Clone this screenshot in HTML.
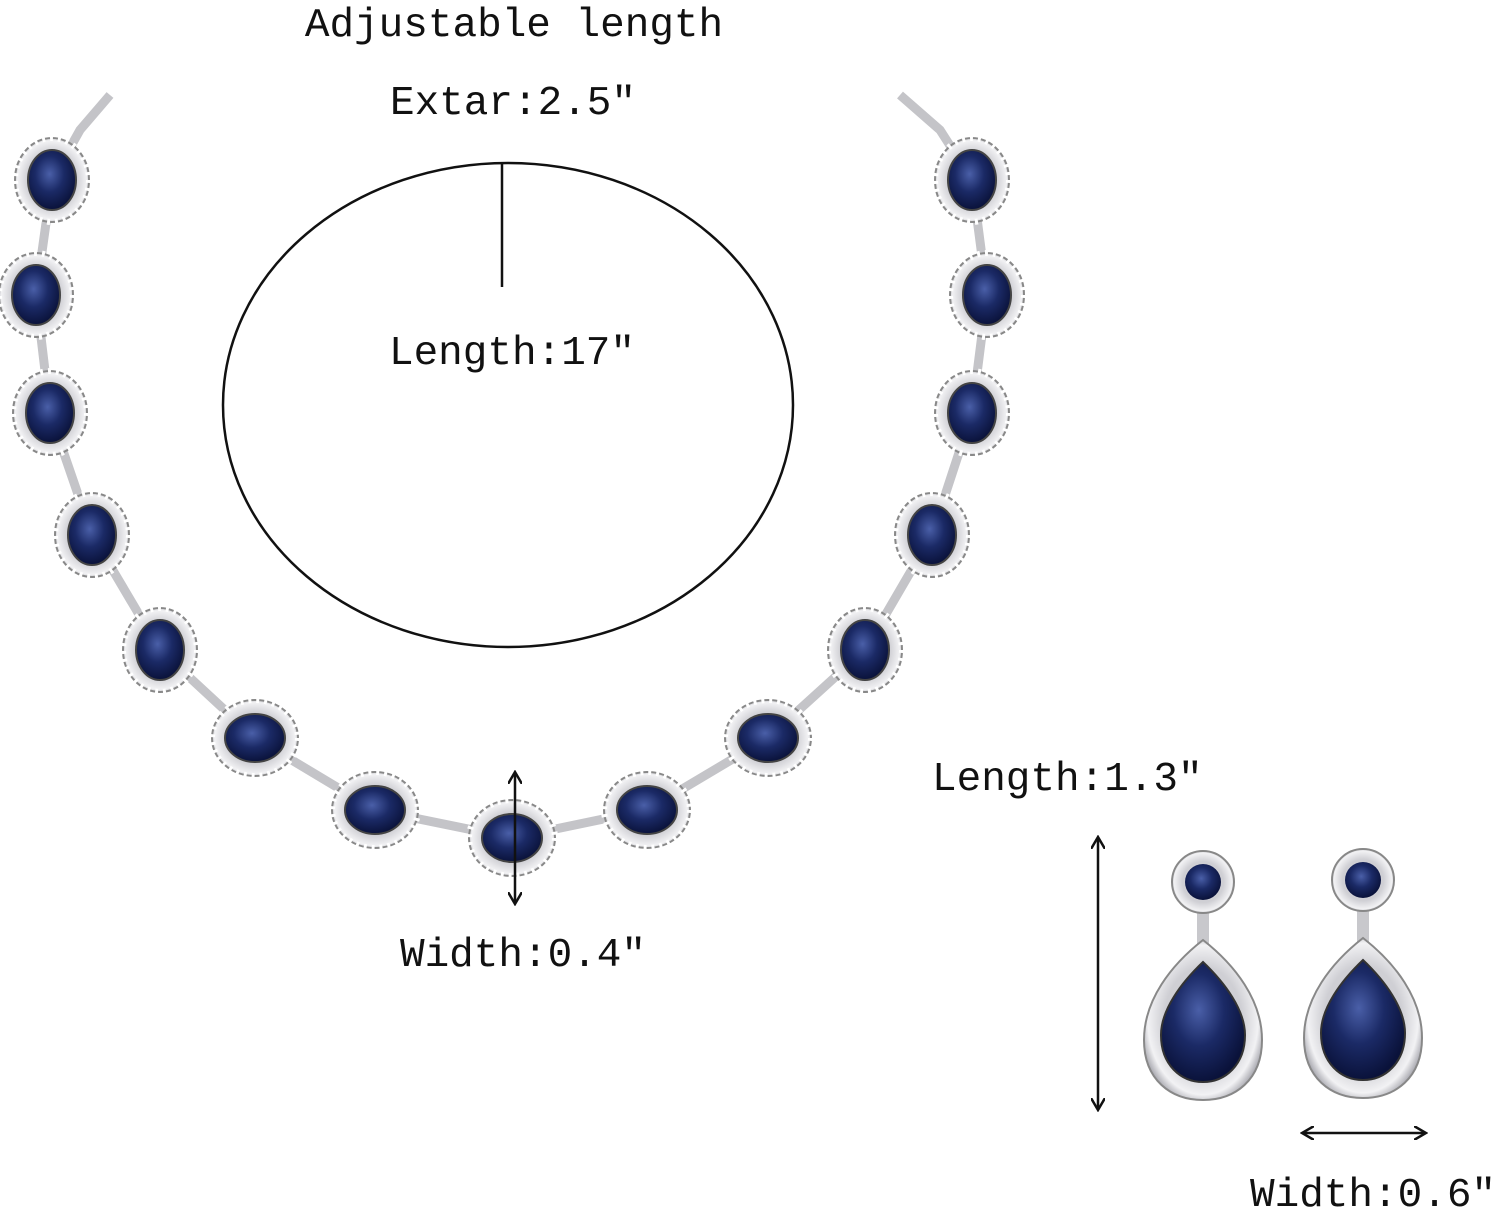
<!DOCTYPE html>
<html><head><meta charset="utf-8"><style>
html,body{margin:0;padding:0;background:#fff;}
svg{display:block}
text{font-family:"Liberation Mono",monospace;font-size:41px;fill:#111;}
</style></head><body>
<svg width="1500" height="1212" viewBox="0 0 1500 1212" xmlns="http://www.w3.org/2000/svg">
<defs>
<radialGradient id="blue" cx="45%" cy="40%" r="60%">
<stop offset="0" stop-color="#4a5fa8"/><stop offset="0.5" stop-color="#1b2a66"/><stop offset="1" stop-color="#0a123a"/>
</radialGradient>
<radialGradient id="silver" cx="50%" cy="50%" r="55%">
<stop offset="0.6" stop-color="#cfcfd4"/><stop offset="0.85" stop-color="#f2f2f4"/><stop offset="1" stop-color="#a0a0a8"/>
</radialGradient>
<g id="gv"><ellipse rx="37" ry="42" fill="url(#silver)" stroke="#888" stroke-width="2"/><ellipse rx="37" ry="42" fill="none" stroke="#fff" stroke-width="6" stroke-dasharray="3 5"/><ellipse rx="24" ry="30" fill="url(#blue)" stroke="#444" stroke-width="2"/></g>
<g id="gh"><ellipse rx="43" ry="38" fill="url(#silver)" stroke="#888" stroke-width="2"/><ellipse rx="43" ry="38" fill="none" stroke="#fff" stroke-width="6" stroke-dasharray="3 5"/><ellipse rx="30" ry="24" fill="url(#blue)" stroke="#444" stroke-width="2"/></g>
<marker id="ah" markerWidth="14" markerHeight="14" refX="12" refY="7" orient="auto-start-reverse" markerUnits="userSpaceOnUse"><path d="M0,0 L12,7 L0,14" fill="none" stroke="#111" stroke-width="2.5"/></marker>
</defs>
<polyline points="110,95 80,130 52,180 36,295 50,413 92,535 160,650 255,738 375,810 512,838 647,810 768,738 865,650 932,535 972,413 987,295 972,180 940,130 900,95" fill="none" stroke="#c4c4c8" stroke-width="9"/>
<use href="#gv" x="52" y="180"/><use href="#gv" x="36" y="295"/><use href="#gv" x="50" y="413"/>
<use href="#gv" x="92" y="535"/><use href="#gv" x="160" y="650"/><use href="#gh" x="255" y="738"/>
<use href="#gh" x="375" y="810"/><use href="#gh" x="512" y="838"/><use href="#gh" x="647" y="810"/>
<use href="#gh" x="768" y="738"/><use href="#gv" x="865" y="650"/><use href="#gv" x="932" y="535"/>
<use href="#gv" x="972" y="413"/><use href="#gv" x="987" y="295"/><use href="#gv" x="972" y="180"/>
<ellipse cx="508" cy="405" rx="285" ry="242" fill="none" stroke="#111" stroke-width="2.5"/>
<line x1="502" y1="163" x2="502" y2="287" stroke="#111" stroke-width="2.5"/>
<text x="514" y="36" text-anchor="middle">Adjustable length</text>
<text x="513" y="114" text-anchor="middle">Extar:2.5"</text>
<text x="512" y="364" text-anchor="middle">Length:17"</text>
<line x1="515" y1="772" x2="515" y2="904" stroke="#111" stroke-width="2.5" marker-start="url(#ah)" marker-end="url(#ah)"/>
<text x="523" y="966" text-anchor="middle">Width:0.4"</text>
<g id="ear1">
<rect x="1197" y="905" width="12" height="40" fill="#c8c8cc"/>
<circle cx="1203" cy="882" r="31" fill="url(#silver)" stroke="#888" stroke-width="2"/><circle cx="1203" cy="882" r="18" fill="url(#blue)"/>
<path d="M1203,940 C1235,965 1262,1000 1262,1040 C1262,1080 1235,1100 1203,1100 C1171,1100 1144,1080 1144,1040 C1144,1000 1171,965 1203,940Z" fill="url(#silver)" stroke="#888" stroke-width="2"/>
<path d="M1203,962 C1225,983 1245,1010 1245,1035 C1245,1065 1225,1082 1203,1082 C1181,1082 1161,1065 1161,1035 C1161,1010 1181,983 1203,962Z" fill="url(#blue)" stroke="#333" stroke-width="2"/>
</g>
<use href="#ear1" x="160" y="-2"/>
<text x="932" y="790">Length:1.3"</text>
<line x1="1098" y1="837" x2="1098" y2="1110" stroke="#111" stroke-width="2.5" marker-start="url(#ah)" marker-end="url(#ah)"/>
<line x1="1302" y1="1133" x2="1426" y2="1133" stroke="#111" stroke-width="2.5" marker-start="url(#ah)" marker-end="url(#ah)"/>
<text x="1250" y="1206">Width:0.6"</text>
</svg>
</body></html>
